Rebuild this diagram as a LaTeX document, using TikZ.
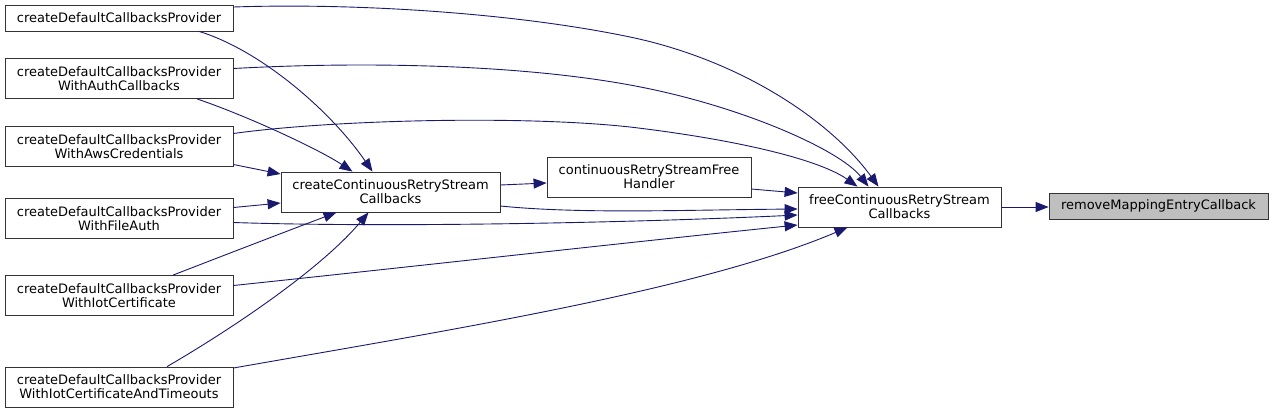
\documentclass[tikz,border=0pt]{standalone}
\usepackage{fontspec}
\setmainfont{DejaVu Sans}
\usetikzlibrary{arrows.meta}
\definecolor{edgeblue}{RGB}{25,25,112}

\begin{document}
\begin{tikzpicture}[x=1pt,y=-1pt,
  fn/.style={draw=black!80,fill=white,line width=0.8pt,inner sep=0pt,minimum height=40pt,align=center,font=\fontsize{13}{14}\selectfont},
  call/.style={draw=edgeblue,line width=0.9pt,-{Triangle[length=13pt,width=10pt]}}]
\useasboundingbox (0,0) rectangle (1273,413);
\node[fn,minimum width=228pt,minimum height=26pt] (A) at (119,18) {createDefaultCallbacksProvider};
\node[fn,minimum width=228pt] (B) at (119,78.5) {createDefaultCallbacksProvider\\WithAuthCallbacks};
\node[fn,minimum width=228pt] (C) at (119,146.5) {createDefaultCallbacksProvider\\WithAwsCredentials};
\node[fn,minimum width=228pt] (D) at (119,218.5) {createDefaultCallbacksProvider\\WithFileAuth};
\node[fn,minimum width=228pt] (E) at (119,295.5) {createDefaultCallbacksProvider\\WithIotCertificate};
\node[fn,minimum width=228pt] (F) at (119,387) {createDefaultCallbacksProvider\\WithIotCertificateAndTimeouts};
\node[fn,minimum width=219pt] (G) at (390.5,192) {createContinuousRetryStream\\Callbacks};
\node[fn,minimum width=204pt] (H) at (649,177) {continuousRetryStreamFree\\Handler};
\node[fn,minimum width=203pt] (K) at (899.5,207) {freeContinuousRetryStream\\Callbacks};
\node[fn,minimum width=219pt,minimum height=26pt,fill=black!25] (R) at (1158.5,206) {removeMappingEntryCallback};
\draw[call] (K.east) -- (K.east -| R.west);
\draw[call] ([xshift=80pt]A.south) .. controls (260,50) and (330,110) .. ([xshift=-18pt]G.north);
\draw[call] ([xshift=78pt]B.south) .. controls (250,117) and (320,150) .. ([xshift=-38pt]G.north);
\draw[call] ([yshift=-18pt]C.east) -- ([yshift=18pt]G.west);
\draw[call] ([yshift=11pt]D.east) -- ([yshift=-11pt]G.west);
\draw[call] ([xshift=54pt]E.north) .. controls (230,253) and (290,230) .. ([xshift=-54pt]G.south);
\draw[call] ([xshift=48pt]F.north) .. controls (230,330) and (320,270) .. ([xshift=-22pt]G.south);
\draw[call] ([yshift=7pt]G.east) -- ([yshift=-6pt]H.west);
\draw[call] ([yshift=-12pt]H.east) -- ([yshift=14pt]K.west);
\draw[call] ([yshift=-14pt]G.east) .. controls (580,214) and (680,210) .. ([yshift=-2pt]K.west);
\draw[call] ([yshift=-4pt]D.east) .. controls (400,228) and (650,222) .. ([yshift=-8pt]K.west);
\draw[call] ([yshift=10pt]E.east) .. controls (400,268) and (650,240) .. ([yshift=-18pt]K.west);
\draw[call] ([yshift=19pt]F.east) .. controls (450,330) and (700,290) .. ([xshift=-52pt]K.south);
\draw[call] ([yshift=11pt]A.east) .. controls (350,3) and (510,12) .. (630,37) .. controls (740,60) and (830,120) .. ([xshift=-21pt]K.north);
\draw[call] ([yshift=10pt]B.east) .. controls (350,62) and (510,63) .. (630,85) .. controls (740,105) and (840,150) .. ([xshift=-31pt]K.north);
\draw[call] ([yshift=13pt]C.east) .. controls (330,120) and (520,115) .. (630,127) .. controls (740,140) and (820,160) .. ([xshift=-42pt]K.north);
\end{tikzpicture}
\end{document}
